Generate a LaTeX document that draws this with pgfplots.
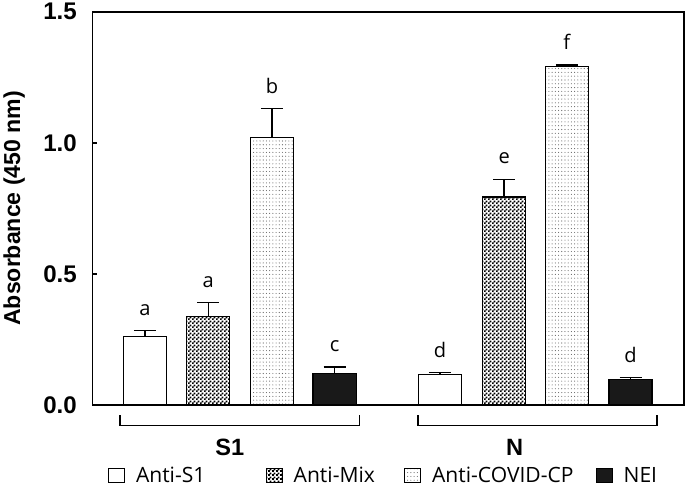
\documentclass[border=0pt]{standalone}
\usepackage{pgfplots}
\pgfplotsset{compat=1.18}
\usepackage{pgfplotstable}
\usepackage{fontspec}
\setmainfont{Open Sans}
\newfontfamily\arial{Liberation Sans}
\usetikzlibrary{patterns}

% small checkerboard for Anti-Mix, fine dots for Anti-COVID-CP
\pgfdeclarepatternformonly{checks}{\pgfpointorigin}{\pgfqpoint{4pt}{4pt}}{\pgfqpoint{4pt}{4pt}}{%
  \pgfpathrectangle{\pgfpointorigin}{\pgfqpoint{2.1pt}{2.1pt}}%
  \pgfpathrectangle{\pgfqpoint{2pt}{2pt}}{\pgfqpoint{2.1pt}{2.1pt}}%
  \pgfusepath{fill}}
\pgfdeclarepatternformonly{finedots}{\pgfqpoint{-0.6pt}{-0.6pt}}{\pgfqpoint{0.6pt}{0.6pt}}{\pgfqpoint{3.2pt}{3.8pt}}{%
  \pgfpathcircle{\pgfpointorigin}{0.55pt}\pgfusepath{fill}}

% x = bar centre, y = mean, err = SD, lab = significance letter
\pgfplotstableread{
x     y      err    lab
52.5  0.261  0.022  a
346.5 0.115  0.008  d
}\antisone
\pgfplotstableread{
x     y      err    lab
115.5 0.338  0.053  a
410.5 0.793  0.068  e
}\antimix
\pgfplotstableread{
x     y      err    lab
179   1.020  0.110  b
473   1.291  0.006  f
}\anticovid
\pgfplotstableread{
x     y      err    lab
241.5 0.120  0.025  c
536.5 0.096  0.008  d
}\nei

\pgfplotsset{
  mybar/.style={ybar, bar width=43, bar shift=0pt, draw=black, line width=1.3pt,
    error bars/y dir=plus, error bars/y explicit,
    error bars/error mark=|,
    error bars/error bar style={line width=1.3pt, solid},
    error bars/error mark options={line width=1.3pt, mark size=11pt, solid}},
  letters/.style={draw=none, mark=none, forget plot, nodes near coords,
    point meta=explicit symbolic,
    nodes near coords style={anchor=south, yshift=11.5pt, font=\fontsize{20}{22}\selectfont}},
}

\begin{document}
\begin{tikzpicture}
\begin{axis}[
  scale only axis, width=590pt, height=392pt,
  xmin=0, xmax=590, ymin=0, ymax=1.5,
  clip=false,
  axis line style={line width=1.6pt},
  xtick=\empty,
  ytick={0,0.5,1,1.5}, ytick pos=left, tick align=inside,
  major tick length=5pt, tick style={line width=1.6pt, black},
  /pgf/number format/assume math mode=true,
  yticklabel style={/pgf/number format/fixed, /pgf/number format/fixed zerofill,
    /pgf/number format/precision=1, xshift=-12pt},
  ticklabel style={font=\arial\bfseries\fontsize{24}{26}\selectfont},
  ylabel={Absorbance (450 nm)},
  ylabel style={at={(axis description cs:-0.1322,0.5)}, anchor=center,
    font=\arial\bfseries\fontsize{23}{25}\selectfont},
  legend columns=4,
  legend style={at={(0.492,-0.179)}, anchor=center, draw=none, fill=none,
    font=\fontsize{21}{23}\selectfont,
    /tikz/column 1/.style={column sep=9pt},
    /tikz/column 2/.style={column sep=58pt},
    /tikz/column 3/.style={column sep=9pt},
    /tikz/column 4/.style={column sep=27pt},
    /tikz/column 5/.style={column sep=9pt},
    /tikz/column 6/.style={column sep=20pt},
    /tikz/column 7/.style={column sep=9pt}},
  legend image code/.code={\draw[#1, line width=1pt] (0pt,-7pt) rectangle (16pt,7pt);},
]
\addplot[mybar, fill=white] table[x=x, y=y, y error=err] {\antisone};
\addplot[mybar, pattern=checks] table[x=x, y=y, y error=err] {\antimix};
\addplot[mybar, pattern=finedots, pattern color=black!60] table[x=x, y=y, y error=err] {\anticovid};
\addplot[mybar, fill=black!90] table[x=x, y=y, y error=err] {\nei};
\legend{Anti-S1, Anti-Mix, Anti-COVID-CP, NEI}

\addplot[letters] table[x=x, y expr=\thisrow{y}+\thisrow{err}, meta=lab] {\antisone};
\addplot[letters] table[x=x, y expr=\thisrow{y}+\thisrow{err}, meta=lab] {\antimix};
\addplot[letters] table[x=x, y expr=\thisrow{y}+\thisrow{err}, meta=lab] {\anticovid};
\addplot[letters] table[x=x, y expr=\thisrow{y}+\thisrow{err}, meta=lab] {\nei};

% group brackets and names
\draw[line width=1.3pt] (axis cs:27.7,-0.040) -- (axis cs:27.7,-0.078) -- (axis cs:266.3,-0.078) -- (axis cs:266.3,-0.040);
\draw[line width=1.3pt] (axis cs:324.7,-0.040) -- (axis cs:324.7,-0.078) -- (axis cs:563,-0.078) -- (axis cs:563,-0.040);
\node[font=\arial\bfseries\fontsize{23.5}{26}\selectfont] at (axis cs:137,-0.163) {S1};
\node[font=\arial\bfseries\fontsize{23.5}{26}\selectfont] at (axis cs:421,-0.163) {N};
\end{axis}
\end{tikzpicture}
\end{document}
